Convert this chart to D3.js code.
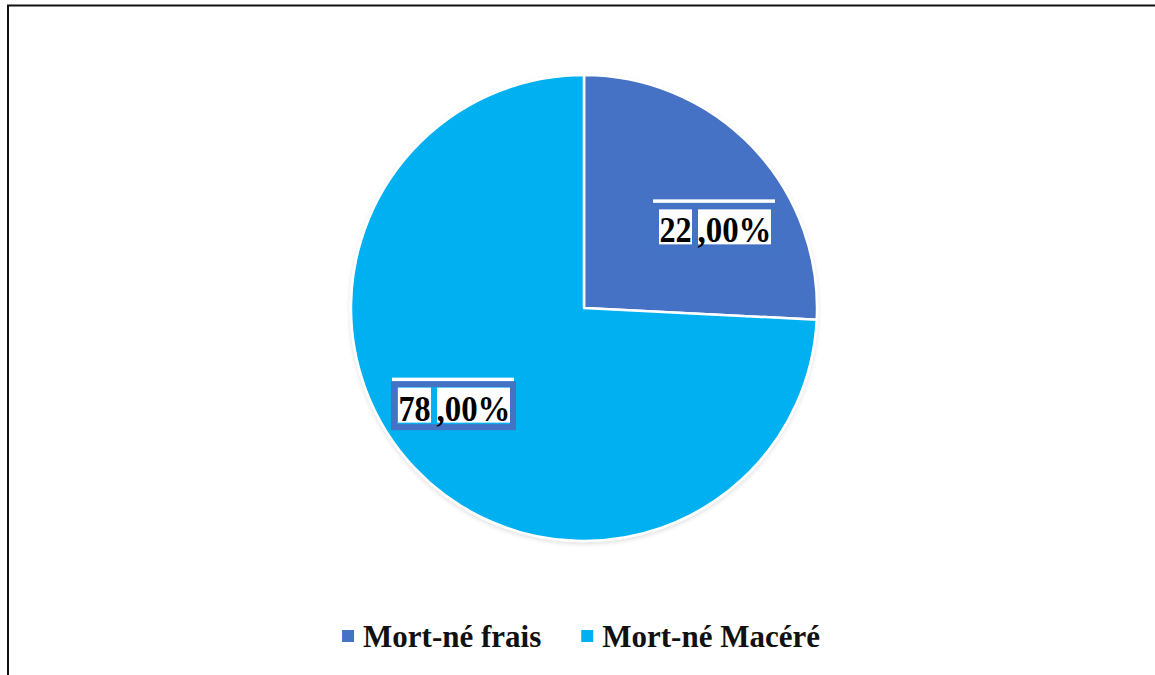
<!DOCTYPE html>
<html>
<head>
<meta charset="utf-8">
<script src="https://cdn.jsdelivr.net/npm/d3@7"></script>
<style>
  html, body { margin: 0; padding: 0; background: #fff; }
  svg { display: block; }
</style>
</head>
<body>
<svg id="chart" width="1155" height="675"></svg>
<script>
// ---- data ----
const categories = ["Mort-né frais", "Mort-né Macéré"];
const shares = [25.8, 74.2];            // slice sizes as drawn in the picture
const labelTexts = ["22 ,00%", "78 ,00%"]; // data labels as printed
const colors = ["#4472C4", "#00B0F0"];

const W = 1155, H = 675;
const FONT = "'Liberation Serif', 'Times New Roman', serif";
const svg = d3.select("#chart");
svg.append("rect").attr("width", W).attr("height", H).attr("fill", "#fff");

// frame (top and left edges visible)
svg.append("path")
  .attr("d", "M8,675 L8,5.5 L1160,5.5")
  .attr("fill", "none").attr("stroke", "#111").attr("stroke-width", 2);

const defs = svg.append("defs");
const f = defs.append("filter").attr("id", "sh").attr("x", "-10%").attr("y", "-10%").attr("width", "120%").attr("height", "120%");
f.append("feDropShadow").attr("dx", 0).attr("dy", 2).attr("stdDeviation", 2)
  .attr("flood-color", "#000").attr("flood-opacity", 0.12);

const cx = 584, cy = 308, R = 233;
const pie = d3.pie().sort(null).value(d => d);
const arcs = pie(shares);
const arc = d3.arc().innerRadius(0).outerRadius(R);
const labelArc = d3.arc().innerRadius(R * 0.77).outerRadius(R * 0.77);

const g = svg.append("g").attr("transform", `translate(${cx},${cy})`);
g.append("g").attr("filter", "url(#sh)")
  .selectAll("path").data(arcs).join("path")
  .attr("d", arc)
  .attr("fill", (d, i) => colors[i])
  .attr("stroke", "#fff").attr("stroke-width", 2.5).attr("stroke-linejoin", "round");

// data labels (manually moved in the original)
const labelShift = [[0, 42], [-1, -27]];
const lg = g.selectAll("g.lbl").data(arcs).join("g").attr("class", "lbl")
  .attr("transform", (d, i) => {
    const c = labelArc.centroid(d);
    return `translate(${c[0] + labelShift[i][0]},${c[1] + labelShift[i][1]})`;
  });

lg.each(function (d, i) {
  const s = d3.select(this);
  const parts = labelTexts[i].split(" ");
  // white rule above
  s.append("rect").attr("x", -61).attr("y", -27).attr("width", 122).attr("height", 4).attr("fill", "#fff");
  // frame
  s.append("rect").attr("x", -59).attr("y", -20.5).attr("width", 119).attr("height", 43)
    .attr("fill", "none").attr("stroke", "#4472C4").attr("stroke-width", 6);
  // boxes
  s.append("rect").attr("x", -55).attr("y", -17).attr("width", 33).attr("height", 35).attr("fill", "#fff");
  s.append("rect").attr("x", -16).attr("y", -17).attr("width", 73).attr("height", 35).attr("fill", "#fff");
  s.append("text").attr("transform", "translate(-38.5,16) scale(0.92,1)").attr("text-anchor", "middle")
    .attr("font-family", FONT).attr("font-weight", "bold")
    .attr("font-size", 35).attr("fill", "#000").text(parts[0]);
  s.append("text").attr("transform", "translate(20.5,16) scale(0.94,1)").attr("text-anchor", "middle")
    .attr("font-family", FONT).attr("font-weight", "bold")
    .attr("font-size", 35).attr("fill", "#000").text(parts[1]);
});

// legend
const legend = svg.append("g");
const items = legend.selectAll("g").data(categories).join("g");
items.append("rect").attr("width", 12).attr("height", 12).attr("y", 630)
  .attr("fill", (d, i) => colors[i]);
items.append("text").attr("x", 21).attr("y", 647)
  .attr("font-family", FONT).attr("font-weight", "bold")
  .attr("font-size", 31).attr("fill", "#111").text(d => d);
let widths = [];
items.each(function () { widths.push(21 + d3.select(this).select("text").node().getComputedTextLength()); });
const gap = 40;
const total = d3.sum(widths) + gap * (widths.length - 1);
let x0 = 581 - total / 2;
items.attr("transform", (d, i) => {
  const x = x0; x0 += widths[i] + gap; return `translate(${x},0)`;
});
</script>
</body>
</html>
